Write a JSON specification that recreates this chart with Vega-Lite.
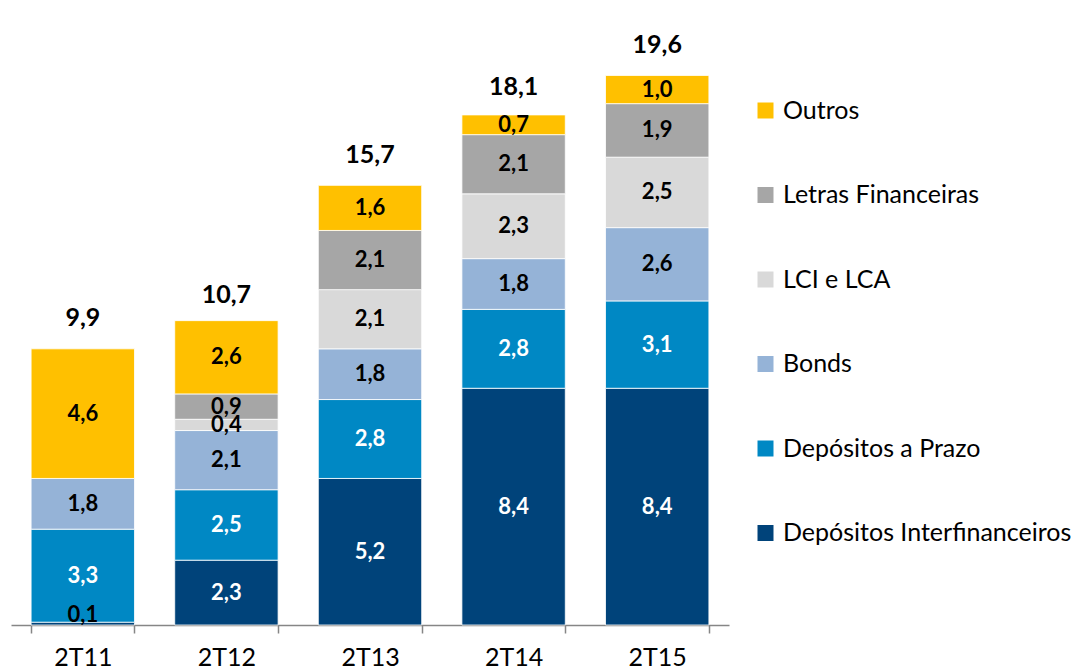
{
  "$schema": "https://vega.github.io/schema/vega-lite/v6.json",
  "autosize": {"type": "none"},
  "width": 718,
  "height": 620,
  "padding": {"left": 11, "top": 5, "right": 349, "bottom": 45},
  "background": "white",
  "config": {
    "view": {"stroke": null},
    "font": "Lato",
    "locale": {"number": {"decimal": ",", "thousands": ".", "grouping": [3], "currency": ["R$", ""]}}
  },
  "datasets": {
    "seg": [
      {"periodo": "2T11", "serie": "Depósitos Interfinanceiros", "ord": 1, "valor": 0.1},
      {"periodo": "2T11", "serie": "Depósitos a Prazo", "ord": 2, "valor": 3.3},
      {"periodo": "2T11", "serie": "Bonds", "ord": 3, "valor": 1.8},
      {"periodo": "2T11", "serie": "Outros", "ord": 6, "valor": 4.6},
      {"periodo": "2T12", "serie": "Depósitos Interfinanceiros", "ord": 1, "valor": 2.3},
      {"periodo": "2T12", "serie": "Depósitos a Prazo", "ord": 2, "valor": 2.5},
      {"periodo": "2T12", "serie": "Bonds", "ord": 3, "valor": 2.1},
      {"periodo": "2T12", "serie": "LCI e LCA", "ord": 4, "valor": 0.4},
      {"periodo": "2T12", "serie": "Letras Financeiras", "ord": 5, "valor": 0.9},
      {"periodo": "2T12", "serie": "Outros", "ord": 6, "valor": 2.6},
      {"periodo": "2T13", "serie": "Depósitos Interfinanceiros", "ord": 1, "valor": 5.2},
      {"periodo": "2T13", "serie": "Depósitos a Prazo", "ord": 2, "valor": 2.8},
      {"periodo": "2T13", "serie": "Bonds", "ord": 3, "valor": 1.8},
      {"periodo": "2T13", "serie": "LCI e LCA", "ord": 4, "valor": 2.1},
      {"periodo": "2T13", "serie": "Letras Financeiras", "ord": 5, "valor": 2.1},
      {"periodo": "2T13", "serie": "Outros", "ord": 6, "valor": 1.6},
      {"periodo": "2T14", "serie": "Depósitos Interfinanceiros", "ord": 1, "valor": 8.4},
      {"periodo": "2T14", "serie": "Depósitos a Prazo", "ord": 2, "valor": 2.8},
      {"periodo": "2T14", "serie": "Bonds", "ord": 3, "valor": 1.8},
      {"periodo": "2T14", "serie": "LCI e LCA", "ord": 4, "valor": 2.3},
      {"periodo": "2T14", "serie": "Letras Financeiras", "ord": 5, "valor": 2.1},
      {"periodo": "2T14", "serie": "Outros", "ord": 6, "valor": 0.7},
      {"periodo": "2T15", "serie": "Depósitos Interfinanceiros", "ord": 1, "valor": 8.4},
      {"periodo": "2T15", "serie": "Depósitos a Prazo", "ord": 2, "valor": 3.1},
      {"periodo": "2T15", "serie": "Bonds", "ord": 3, "valor": 2.6},
      {"periodo": "2T15", "serie": "LCI e LCA", "ord": 4, "valor": 2.5},
      {"periodo": "2T15", "serie": "Letras Financeiras", "ord": 5, "valor": 1.9},
      {"periodo": "2T15", "serie": "Outros", "ord": 6, "valor": 1.0}
    ],
    "tot": [
      {"periodo": "2T11", "total": 9.9},
      {"periodo": "2T12", "total": 10.7},
      {"periodo": "2T13", "total": 15.7},
      {"periodo": "2T14", "total": 18.1},
      {"periodo": "2T15", "total": 19.6}
    ]
  },
  "encoding": {
    "x": {
      "field": "periodo",
      "type": "nominal",
      "sort": ["2T11", "2T12", "2T13", "2T14", "2T15"],
      "scale": {"paddingInner": 0.28, "paddingOuter": 0.14},
      "axis": {
        "title": null,
        "labelAngle": 0,
        "labelFont": "Lato",
        "labelFontSize": 25,
        "labelColor": "black",
        "labelPadding": 12,
        "domainColor": "#868686",
        "domainWidth": 1.5,
        "tickColor": "#868686",
        "tickWidth": 1.5,
        "tickSize": 8,
        "tickBand": "extent"
      }
    }
  },
  "layer": [
    {
      "data": {"name": "seg"},
      "transform": [
        {"stack": "valor", "groupby": ["periodo"], "sort": [{"field": "ord", "order": "ascending"}], "as": ["y0", "y1"]},
        {"calculate": "max((datum.y0 + datum.y1) / 2, 0.35)", "as": "ymid"}
      ],
      "layer": [
        {
          "mark": {"type": "bar", "stroke": "white", "strokeWidth": 0.8},
          "encoding": {
            "y": {"field": "y0", "type": "quantitative", "scale": {"domain": [0, 22], "nice": false}, "axis": null},
            "y2": {"field": "y1"},
            "color": {
              "field": "serie",
              "type": "nominal",
              "scale": {
                "domain": ["Outros", "Letras Financeiras", "LCI e LCA", "Bonds", "Depósitos a Prazo", "Depósitos Interfinanceiros"],
                "range": ["#FFC000", "#A6A6A6", "#D9D9D9", "#95B3D7", "#0088C4", "#00437A"]
              },
              "legend": {
                "title": null,
                "orient": "none",
                "legendX": 742,
                "legendY": 93,
                "symbolType": "square",
                "symbolSize": 256,
                "symbolStrokeWidth": 0,
                "labelFont": "Lato",
                "labelFontSize": 25,
                "labelColor": "black",
                "labelOffset": 5,
                "rowPadding": 58.5,
                "labelLimit": 400
              }
            }
          }
        },
        {
          "mark": {"type": "text", "fontSize": 22, "fontWeight": "bold", "font": "Lato", "baseline": "middle"},
          "encoding": {
            "y": {"field": "ymid", "type": "quantitative"},
            "text": {"field": "valor", "type": "quantitative", "format": ".1f"},
            "color": {
              "condition": {"test": "datum.serie === 'Depósitos Interfinanceiros' && datum.valor > 1 || datum.serie === 'Depósitos a Prazo'", "value": "white"},
              "value": "black"
            }
          }
        }
      ]
    },
    {
      "data": {"name": "tot"},
      "mark": {"type": "text", "fontSize": 25, "fontWeight": "bold", "font": "Lato", "baseline": "middle", "dy": -28, "color": "black"},
      "encoding": {
        "y": {"field": "total", "type": "quantitative"},
        "text": {"field": "total", "type": "quantitative", "format": ".1f"}
      }
    }
  ]
}
